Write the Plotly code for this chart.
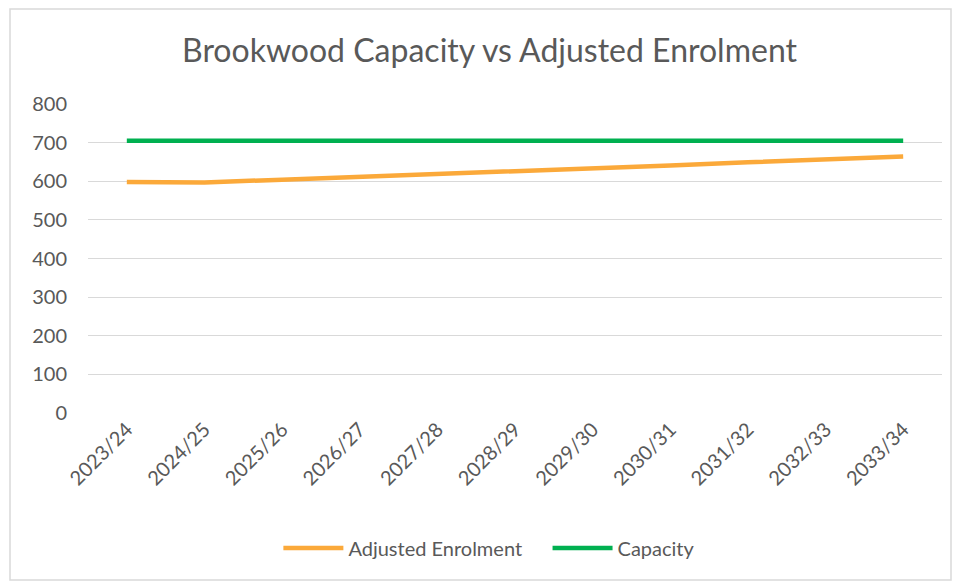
import plotly.graph_objects as go

years = ["2023/24", "2024/25", "2025/26", "2026/27", "2027/28", "2028/29",
         "2029/30", "2030/31", "2031/32", "2032/33", "2033/34"]
adjusted_enrolment = [598, 597, 604, 611, 619, 626, 634, 641, 649, 656, 664]
capacity = [705, 705, 705, 705, 705, 705, 705, 705, 705, 705, 705]

font_family = "Lato, 'Open Sans', sans-serif"
text_col = "#595959"

fig = go.Figure()
fig.add_trace(go.Scatter(x=years, y=adjusted_enrolment, mode="lines",
                         name="Adjusted Enrolment\u00a0\u00a0\u00a0\u00a0",
                         line=dict(color="#FBA93A", width=4.5)))
fig.add_trace(go.Scatter(x=years, y=capacity, mode="lines",
                         name="Capacity",
                         line=dict(color="#00B050", width=4.5)))

W, H = 958, 582
ml, mr, mt, mb = 88, 16, 104, 169
fig.update_layout(
    width=W, height=H,
    margin=dict(l=ml, r=mr, t=mt, b=mb),
    paper_bgcolor="white", plot_bgcolor="white",
    font=dict(family=font_family, color=text_col),
    title=dict(text="Brookwood Capacity vs Adjusted Enrolment",
               x=0.511, xanchor="center", y=1 - 51 / H, yanchor="middle",
               font=dict(size=32, color=text_col, family=font_family)),
    xaxis=dict(type="category", range=[-0.5, 10.5], tickangle=-45,
               showgrid=False, showline=False, ticks="",
               tickfont=dict(size=20, color=text_col)),
    yaxis=dict(range=[0, 800], dtick=100, showgrid=True, gridcolor="#D9D9D9",
               gridwidth=1.3, zeroline=False, showline=False, ticks="",
               tickfont=dict(size=20, color=text_col), ticklabelstandoff=20),
    legend=dict(orientation="h", x=0.47, xanchor="center",
                y=-(548 - (H - mb)) / (H - mt - mb), yanchor="middle",
                font=dict(size=20, color=text_col), itemwidth=60,
                tracegroupgap=0),
    showlegend=True,
    shapes=[dict(type="rect", xref="paper", yref="paper",
                 x0=(10 - ml) / (W - ml - mr), x1=(951 - ml) / (W - ml - mr),
                 y0=(H - mb - 580) / (H - mt - mb), y1=(H - mb - 9) / (H - mt - mb),
                 line=dict(color="#D9D9D9", width=1.5), fillcolor="rgba(0,0,0,0)",
                 layer="below")],
)

fig.write_html("out.html")
